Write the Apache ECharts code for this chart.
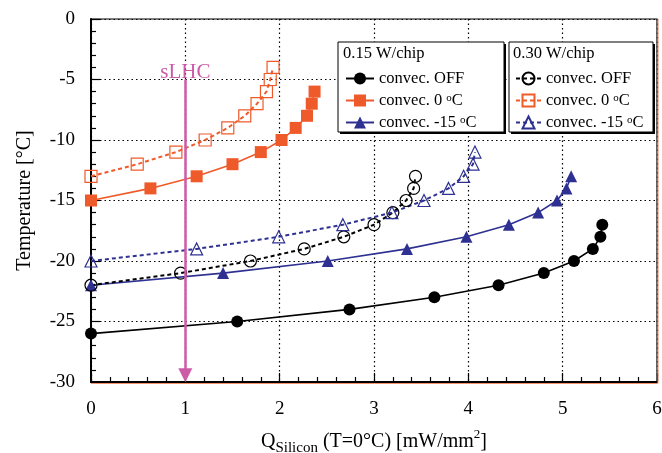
<!DOCTYPE html>
<html>
<head>
<meta charset="utf-8">
<script src="https://cdn.jsdelivr.net/npm/echarts@6/dist/echarts.min.js"></script>
<style>
  html, body { margin: 0; padding: 0; background: #fff; }
  #main { width: 662px; height: 453px; }
</style>
</head>
<body>
<div id="main"></div>
<script>
// 0.15 W/chip
const xOff15 = [0, 1.55, 2.74, 3.64, 4.32, 4.80, 5.12, 5.32, 5.40, 5.42];
const tOff15 = [-26, -25, -24, -23, -22, -21, -20, -19, -18, -17];
const x0c15 = [0, 0.63, 1.12, 1.50, 1.80, 2.02, 2.17, 2.29, 2.34, 2.37];
const t0c15 = [-15, -14, -13, -12, -11, -10, -9, -8, -7, -6];
const xM15c15 = [0, 1.40, 2.51, 3.35, 3.98, 4.43, 4.74, 4.94, 5.04, 5.09];
const tM15c15 = [-22, -21, -20, -19, -18, -17, -16, -15, -14, -13];
// 0.30 W/chip
const xOff30 = [0, 0.95, 1.69, 2.26, 2.68, 3.00, 3.20, 3.34, 3.42, 3.44];
const tOff30 = [-22, -21, -20, -19, -18, -17, -16, -15, -14, -13];
const x0c30 = [0, 0.49, 0.90, 1.21, 1.45, 1.63, 1.76, 1.86, 1.90, 1.93];
const t0c30 = [-13, -12, -11, -10, -9, -8, -7, -6, -5, -4];
const xM15c30 = [0, 1.12, 1.99, 2.67, 3.19, 3.53, 3.79, 3.95, 4.05, 4.07];
const tM15c30 = [-20, -19, -18, -17, -16, -15, -14, -13, -12, -11];

const legendNames = {
  s1: 'convec. OFF', s2: 'convec. 0 {sup|o}C', s3: 'convec. -15 {sup|o}C',
  s4: 'convec. OFF', s5: 'convec. 0 {sup|o}C', s6: 'convec. -15 {sup|o}C'
};
const sLHC = 1;

const FONT = 'Liberation Serif';
const BLACK = '#000';
const ORANGE = '#ef5a2a';
const BLUE = '#2e3192';
const MAGENTA = '#cc5ba8';

const pair = (xs, ys) => xs.map((x, i) => [x, ys[i]]);

function solid(id, xs, ys, color, symbol) {
  return {
    id: id, name: id, type: 'line', data: pair(xs, ys),
    symbol: symbol, symbolSize: 12,
    itemStyle: { color: color },
    lineStyle: { color: color, width: 1.6 },
    animation: false
  };
}
function hollow(id, xs, ys, color, symbol) {
  return {
    id: id, name: id, type: 'line', data: pair(xs, ys),
    symbol: symbol, symbolSize: 12,
    itemStyle: { color: 'rgba(255,255,255,0)', borderColor: color, borderWidth: 1.2 },
    lineStyle: { color: color, width: 2, type: [4, 3] },
    animation: false
  };
}

const series = [
  solid('s1', xOff15, tOff15, BLACK, 'circle'),
  solid('s2', x0c15, t0c15, ORANGE, 'rect'),
  solid('s3', xM15c15, tM15c15, BLUE, 'triangle'),
  hollow('s4', xOff30, tOff30, BLACK, 'circle'),
  hollow('s5', x0c30, t0c30, ORANGE, 'rect'),
  hollow('s6', xM15c30, tM15c30, BLUE, 'triangle')
];
series[0].markLine = {
  silent: true,
  symbol: ['none', 'triangle'],
  symbolSize: [14, 14],
  lineStyle: { color: MAGENTA, width: 2.5, type: 'solid' },
  label: {
    show: true, position: 'start', formatter: 'sLHC', distance: -3,
    color: MAGENTA, fontSize: 21, fontFamily: FONT
  },
  data: [[{ coord: [sLHC, -5] }, { coord: [sLHC, -29.45] }]]
};

const legendText = {
  fontFamily: FONT, fontSize: 16.5, color: '#000', lineHeight: 16,
  rich: { sup: { fontFamily: FONT, fontSize: 11, lineHeight: 16, verticalAlign: 'top', color: '#000' } }
};

const gridLine = { show: true, lineStyle: { color: '#000', type: [1.5, 3], width: 1.2 } };

const option = {
  backgroundColor: '#fff',
  animation: false,
  grid: {
    left: 91, right: 5, top: 19, bottom: 71,
    outerBoundsMode: 'none', containLabel: false,
    show: true, backgroundColor: 'transparent', borderColor: '#000', borderWidth: 1.2
  },
  xAxis: {
    type: 'value', min: 0, max: 6, interval: 1,
    axisLine: { show: true, onZero: false, lineStyle: { color: '#000', width: 2 } },
    axisTick: { inside: true, length: 9, lineStyle: { color: '#000', width: 1.2 } },
    minorTick: { show: true, splitNumber: 5, length: 5, lineStyle: { color: '#000', width: 1.2 } },
    splitLine: gridLine,
    axisLabel: { margin: 18, fontSize: 19, fontFamily: FONT, color: '#000', showMinLabel: true, showMaxLabel: true },
    name: '{q|Q}{sub|Silicon}{a| (T=0°C) [mW/mm}{sup|2}{a|]}',
    nameLocation: 'middle', nameGap: 46,
    nameTextStyle: {
      fontFamily: FONT, color: '#000',
      rich: {
        q: { fontFamily: FONT, fontSize: 20, lineHeight: 28, verticalAlign: 'middle', color: '#000' },
        a: { fontFamily: FONT, fontSize: 20, lineHeight: 28, verticalAlign: 'middle', color: '#000' },
        sub: { fontFamily: FONT, fontSize: 15, lineHeight: 28, verticalAlign: 'bottom', color: '#000' },
        sup: { fontFamily: FONT, fontSize: 13, lineHeight: 28, verticalAlign: 'top', color: '#000' }
      }
    }
  },
  yAxis: {
    type: 'value', min: -30, max: 0, interval: 5,
    axisLine: { show: true, onZero: false, lineStyle: { color: '#000', width: 2 } },
    axisTick: { inside: true, length: 9, lineStyle: { color: '#000', width: 1.2 } },
    minorTick: { show: true, splitNumber: 5, length: 5, lineStyle: { color: '#000', width: 1.2 } },
    splitLine: gridLine,
    axisLabel: { margin: 16, fontSize: 19, fontFamily: FONT, color: '#000' },
    name: 'Temperature [°C]', nameLocation: 'middle', nameGap: 56,
    nameTextStyle: { fontFamily: FONT, fontSize: 20, color: '#000' }
  },
  legend: [
    {
      data: ['s1', 's2', 's3'], orient: 'vertical', left: 345, top: 70,
      padding: 0, itemGap: 5, itemWidth: 28, itemHeight: 15,
      selectedMode: false, z: 10,
      formatter: n => legendNames[n], textStyle: legendText
    },
    {
      data: ['s4', 's5', 's6'], orient: 'vertical', left: 515, top: 70,
      padding: 0, itemGap: 5, itemWidth: 25, itemHeight: 15,
      selectedMode: false, z: 10,
      formatter: n => legendNames[n], textStyle: legendText
    }
  ],
  graphic: [
    // legend frames with a hard drop shadow
    { type: 'rect', z: 5, shape: { x: 340, y: 44, width: 166, height: 90 }, style: { fill: '#000' } },
    { type: 'rect', z: 5, shape: { x: 338, y: 42, width: 166, height: 90 }, style: { fill: '#fff', stroke: '#000', lineWidth: 1 } },
    { type: 'rect', z: 5, shape: { x: 511, y: 44, width: 144, height: 90 }, style: { fill: '#000' } },
    { type: 'rect', z: 5, shape: { x: 509, y: 42, width: 144, height: 90 }, style: { fill: '#fff', stroke: '#000', lineWidth: 1 } },
    { type: 'text', z: 6, x: 343, y: 54,
      style: { text: '0.15 W/chip', font: '16.5px "Liberation Serif"', fill: '#000', verticalAlign: 'middle' } },
    { type: 'text', z: 6, x: 513, y: 54,
      style: { text: '0.30 W/chip', font: '16.5px "Liberation Serif"', fill: '#000', verticalAlign: 'middle' } },
    { type: 'line', z: 6, shape: { x1: 658, y1: 19, x2: 658, y2: 383 }, style: { stroke: '#f4906a', lineWidth: 1 } },
    { type: 'line', z: 6, shape: { x1: 91, y1: 383.5, x2: 658, y2: 383.5 }, style: { stroke: '#f4906a', lineWidth: 1 } }
  ],
  series: series
};

const chart = echarts.init(document.getElementById('main'), null, { renderer: 'canvas' });
chart.setOption(option);
</script>
</body>
</html>
